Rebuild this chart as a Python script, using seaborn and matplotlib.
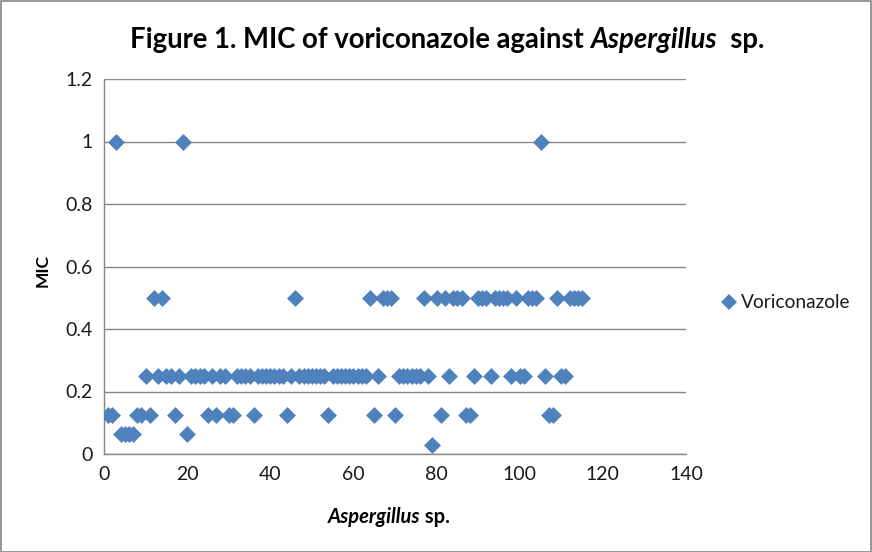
import matplotlib
matplotlib.use("Agg")
import matplotlib.pyplot as plt
import seaborn as sns
import pandas as pd
from matplotlib.patches import Rectangle
from matplotlib.lines import Line2D

# ---- data: MIC per isolate (isolate number = position in list, starting at 1)
mic_values = [
    0.125, 0.125, 1, 0.0625, 0.0625, 0.0625, 0.0625, 0.125, 0.125, 0.25,   # 1-10
    0.125, 0.5, 0.25, 0.5, 0.25, 0.25, 0.125, 0.25, 1, 0.0625,            # 11-20
    0.25, 0.25, 0.25, 0.25, 0.125, 0.25, 0.125, 0.25, 0.25, 0.125,        # 21-30
    0.125, 0.25, 0.25, 0.25, 0.25, 0.125, 0.25, 0.25, 0.25, 0.25,         # 31-40
    0.25, 0.25, 0.25, 0.125, 0.25, 0.5, 0.25, 0.25, 0.25, 0.25,           # 41-50
    0.25, 0.25, 0.25, 0.125, 0.25, 0.25, 0.25, 0.25, 0.25, 0.25,          # 51-60
    0.25, 0.25, 0.25, 0.5, 0.125, 0.25, 0.5, 0.5, 0.5, 0.125,             # 61-70
    0.25, 0.25, 0.25, 0.25, 0.25, 0.25, 0.5, 0.25, 0.03, 0.5,             # 71-80
    0.125, 0.5, 0.25, 0.5, 0.5, 0.5, 0.125, 0.125, 0.25, 0.5,             # 81-90
    0.5, 0.5, 0.25, 0.5, 0.5, 0.5, 0.5, 0.25, 0.5, 0.25,                  # 91-100
    0.25, 0.5, 0.5, 0.5, 1, 0.25, 0.125, 0.125, 0.5, 0.25,                # 101-110
    0.25, 0.5, 0.5, 0.5, 0.5,                                             # 111-115
]
isolates = list(range(1, len(mic_values) + 1))
series_name = "Voriconazole"
x_ticks = [0, 20, 40, 60, 80, 100, 120, 140]
y_ticks = [0, 0.2, 0.4, 0.6, 0.8, 1.0, 1.2]

df = pd.DataFrame({"isolate": isolates, "MIC": mic_values})

sns.set_theme(style="white")
FONT = "Lato"
plt.rcParams["font.family"] = [FONT, "DejaVu Sans"]

W, H = 872, 552
fig = plt.figure(figsize=(W / 100, H / 100), dpi=100)
fig.patch.set_facecolor("white")

# chart border
fig.patches.append(Rectangle((0.5 / W, 0.5 / H), 1 - 1.5 / W, 1 - 1.5 / H,
                             transform=fig.transFigure, fill=False,
                             edgecolor="#868686", linewidth=1.2))

L, R, T, B = 104, 686, 79, 454
ax = fig.add_axes([L / W, 1 - B / H, (R - L) / W, (B - T) / H])

blue = "#4F81BD"
sns.scatterplot(data=df, x="isolate", y="MIC", ax=ax, marker="D", s=74,
                color=blue, edgecolor=blue, linewidth=0, legend=False, zorder=3)

ax.set_xlim(0, 140)
ax.set_ylim(0, 1.2)
ax.set_xticks(x_ticks)
ax.set_yticks(y_ticks)
ax.set_xticklabels([f"{v:g}" for v in x_ticks], fontsize=14, color="#1a1a1a")
ax.set_yticklabels([f"{v:g}" for v in y_ticks], fontsize=14, color="#1a1a1a")
ax.tick_params(axis="x", length=0, pad=9)
ax.tick_params(axis="y", length=0, pad=8)
ax.yaxis.grid(True, color="#868686", linewidth=1.0)
ax.xaxis.grid(False)
ax.set_axisbelow(True)
for s in ["top", "right"]:
    ax.spines[s].set_visible(False)
for s in ["left", "bottom"]:
    ax.spines[s].set_color("#868686")
    ax.spines[s].set_linewidth(1.0)
ax.set_xlabel("")
ax.set_ylabel("")

# y label
fig.text(43 / W, 1 - 271 / H, "MIC", rotation=90, ha="center", va="center",
         fontsize=12.5, fontweight="bold", color="black")

fig.canvas.draw()
renderer = fig.canvas.get_renderer()


def mixed_text(parts, cx, cy, size):
    """parts: list of (text, style). Draw centered at (cx, cy) in pixels (top-origin)."""
    objs = []
    for txt, style in parts:
        t = fig.text(0, 1 - cy / H, txt, fontsize=size, fontweight="bold",
                     fontstyle=style, ha="left", va="center", color="black")
        objs.append(t)
    widths = [o.get_window_extent(renderer).width for o in objs]
    total = sum(widths)
    x = cx - total / 2
    for o, w in zip(objs, widths):
        o.set_x(x / W)
        x += w


mixed_text([("Figure 1. MIC of voriconazole against ", "normal"),
            ("Aspergillus", "italic"), ("  sp.", "normal")], 447, 40, 19.8)
mixed_text([("Aspergillus", "italic"), (" sp.", "normal")], 389, 517, 14.5)

# legend
fig.add_artist(Line2D([729 / W], [1 - 302 / H], marker="D", markersize=8.5,
                      color=blue, markeredgewidth=0, linestyle="None",
                      transform=fig.transFigure))
fig.text(741 / W, 1 - 302 / H, series_name, fontsize=13.8, ha="left", va="center",
         color="#1a1a1a")

fig.savefig("out.png", dpi=100)
